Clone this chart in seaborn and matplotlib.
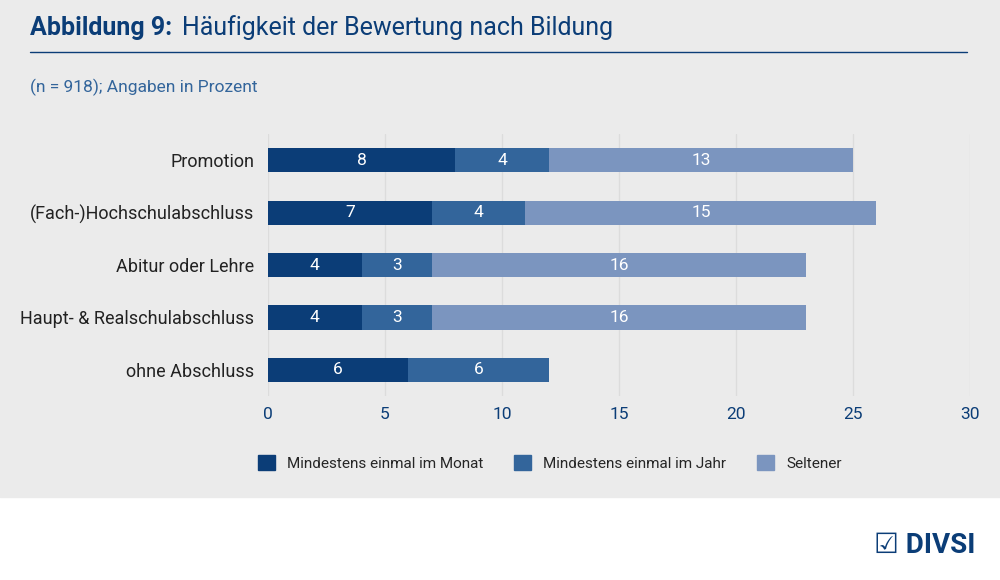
import matplotlib
matplotlib.use("Agg")
import matplotlib.pyplot as plt
import seaborn as sns
import pandas as pd
from matplotlib.patches import Patch

categories = ["Promotion", "(Fach-)Hochschulabschluss", "Abitur oder Lehre",
              "Haupt- & Realschulabschluss", "ohne Abschluss"]
monat = [8, 7, 4, 4, 6]
jahr = [4, 4, 3, 3, 6]
seltener = [13, 15, 16, 16, 0]
series_names = ["Mindestens einmal im Monat", "Mindestens einmal im Jahr", "Seltener"]
colors = ["#0b3d77", "#33659b", "#7b95bf"]
bg = "#ebebeb"
navy = "#0b3d77"

sns.set_theme(style="white")
plt.rcParams["font.family"] = ["Roboto", "DejaVu Sans"]

df = pd.DataFrame({"cat": categories, "m": monat, "j": jahr, "s": seltener})
df["mj"] = df["m"] + df["j"]
df["mjs"] = df["mj"] + df["s"]

fig = plt.figure(figsize=(10, 5.8), dpi=100)
fig.patches.append(plt.Rectangle((0, 1 - 497 / 580), 1, 497 / 580, transform=fig.transFigure,
                                 color=bg, zorder=-10))
ax = fig.add_axes([0.268, 0.317, 0.702, 0.452])
ax.set_facecolor(bg)

for col, c in zip(["mjs", "mj", "m"], colors[::-1]):
    sns.barplot(data=df, x=col, y="cat", color=c, width=0.46, ax=ax, saturation=1,
                orient="h", linewidth=0)

for i, row in df.iterrows():
    starts = [0, row["m"], row["mj"]]
    for v, s in zip([row["m"], row["j"], row["s"]], starts):
        if v > 0:
            ax.text(s + v / 2, i, str(v), ha="center", va="center", color="white", fontsize=12.5)

ax.set_xlim(0, 30)
ax.set_xticks(range(0, 31, 5))
ax.xaxis.grid(True, color="#dcdcdc", lw=1)
ax.set_axisbelow(True)
for sp in ax.spines.values():
    sp.set_visible(False)
ax.set_xlabel("")
ax.set_ylabel("")
ax.tick_params(axis="x", colors=navy, labelsize=12.5, length=0, pad=8)
ax.tick_params(axis="y", labelsize=13, length=0, pad=10, labelcolor="#222222")

handles = [Patch(color=c) for c in colors]
fig.legend(handles, series_names, loc="center", bbox_to_anchor=(0.55, 1 - 463 / 580), ncol=3,
           frameon=False, fontsize=11, handlelength=1.1, handleheight=1.1, columnspacing=2.0)

fig.text(0.03, 1 - 28 / 580, "Abbildung 9:", fontsize=18, fontweight="bold", color=navy, va="center")
fig.text(0.182, 1 - 28 / 580, "Häufigkeit der Bewertung nach Bildung", fontsize=18, color=navy, va="center")
fig.add_artist(plt.Line2D([0.03, 0.967], [1 - 52 / 580] * 2, color=navy, lw=1))
fig.text(0.03, 1 - 87 / 580, "(n = 918); Angaben in Prozent", fontsize=12.5, color="#33659b", va="center")
fig.text(0.975, 1 - 545 / 580, "☑ DIVSI", fontsize=20, fontweight="bold", color=navy,
         ha="right", va="center")

fig.savefig("out.png", dpi=100)
